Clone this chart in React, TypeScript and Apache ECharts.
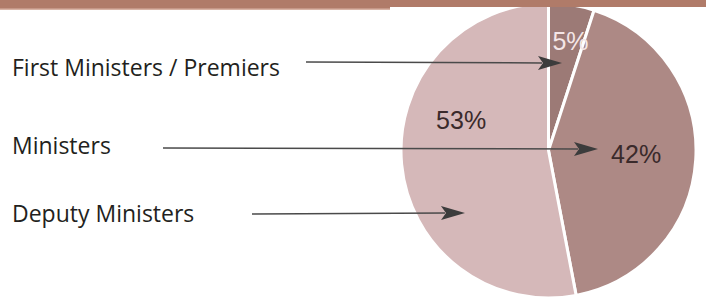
import React, { useEffect, useRef } from "react";
import * as echarts from "echarts";

const categories = ["First Ministers / Premiers", "Ministers", "Deputy Ministers"];
const shares = [5, 42, 53];
const sliceColors = ["#9c7a76", "#ad8985", "#d5b8b9"];
const labelColors = ["#f4e6e6", "#3a2a2b", "#3a2a2b"];
const labelOffsets = [[10, -34], [11, -1], [-11, -38]];
// legend text rows: [textY, lineStartX, lineStartY, tipX, tipY]
const arrowRows = [
  [67, 306, 62, 562, 63],
  [145, 163, 148, 598, 149],
  [213, 252, 214, 465, 213],
];

function arrowHead(tx: number, ty: number, fx: number, fy: number) {
  const ang = Math.atan2(ty - fy, tx - fx);
  const c = Math.cos(ang), s = Math.sin(ang);
  const pt = (a: number, b: number) => [tx + a * c - b * s, ty + a * s + b * c];
  return [pt(0, 0), pt(-24, -7), pt(-19, 0), pt(-24, 7)];
}

export default function App() {
  const ref = useRef<HTMLDivElement>(null);
  useEffect(() => {
    if (!ref.current) return;
    const chart = echarts.init(ref.current, null, { renderer: "svg" });
    const graphics: any[] = [];
    graphics.push({ type: "rect", shape: { x: 0, y: 0, width: 390, height: 9 }, style: { fill: "#b07b69" }, z: 100 });
    graphics.push({ type: "rect", shape: { x: 0, y: 8.5, width: 390, height: 1.5 }, style: { fill: "#d9b4a6" }, z: 100 });
    graphics.push({ type: "rect", shape: { x: 390, y: 0, width: 316, height: 7 }, style: { fill: "#b07b69" }, z: 100 });
    categories.forEach((name, i) => {
      const [ty, sx, sy, tx, tyy] = arrowRows[i];
      graphics.push({
        type: "text",
        x: 12,
        y: ty,
        style: { text: name, fontFamily: "Open Sans", fontSize: 23, fill: "#231f20", verticalAlign: "middle", align: "left" },
        z: 50,
      });
      graphics.push({
        type: "line",
        shape: { x1: sx, y1: sy, x2: tx - 20, y2: tyy },
        style: { stroke: "#4a4a4a", lineWidth: 1.5 },
        z: 50,
      });
      graphics.push({
        type: "polygon",
        shape: { points: arrowHead(tx, tyy, sx, sy) },
        style: { fill: "#3c3c3c" },
        z: 50,
      });
    });
    chart.setOption({
      animation: false,
      backgroundColor: "#ffffff",
      graphic: graphics,
      series: [
        {
          type: "pie",
          center: [548.5, 150.5],
          radius: [0, 147.5],
          startAngle: 90,
          clockwise: true,
          avoidLabelOverlap: false,
          silent: true,
          itemStyle: { borderColor: "#ffffff", borderWidth: 3 },
          label: {
            show: true,
            position: "inside",
            fontFamily: "Liberation Sans",
            fontSize: 25,
            formatter: (p: any) => `${shares[p.dataIndex]}%`,
          },
          labelLine: { show: false },
          data: categories.map((name, i) => ({
            name,
            value: shares[i],
            itemStyle: { color: sliceColors[i] },
            label: { color: labelColors[i], offset: labelOffsets[i] },
          })),
        },
      ],
    });
    return () => chart.dispose();
  }, []);
  return (
    <div
      ref={ref}
      style={{ position: "fixed", left: 0, top: 0, width: 706, height: 304, background: "#fff" }}
    />
  );
}
